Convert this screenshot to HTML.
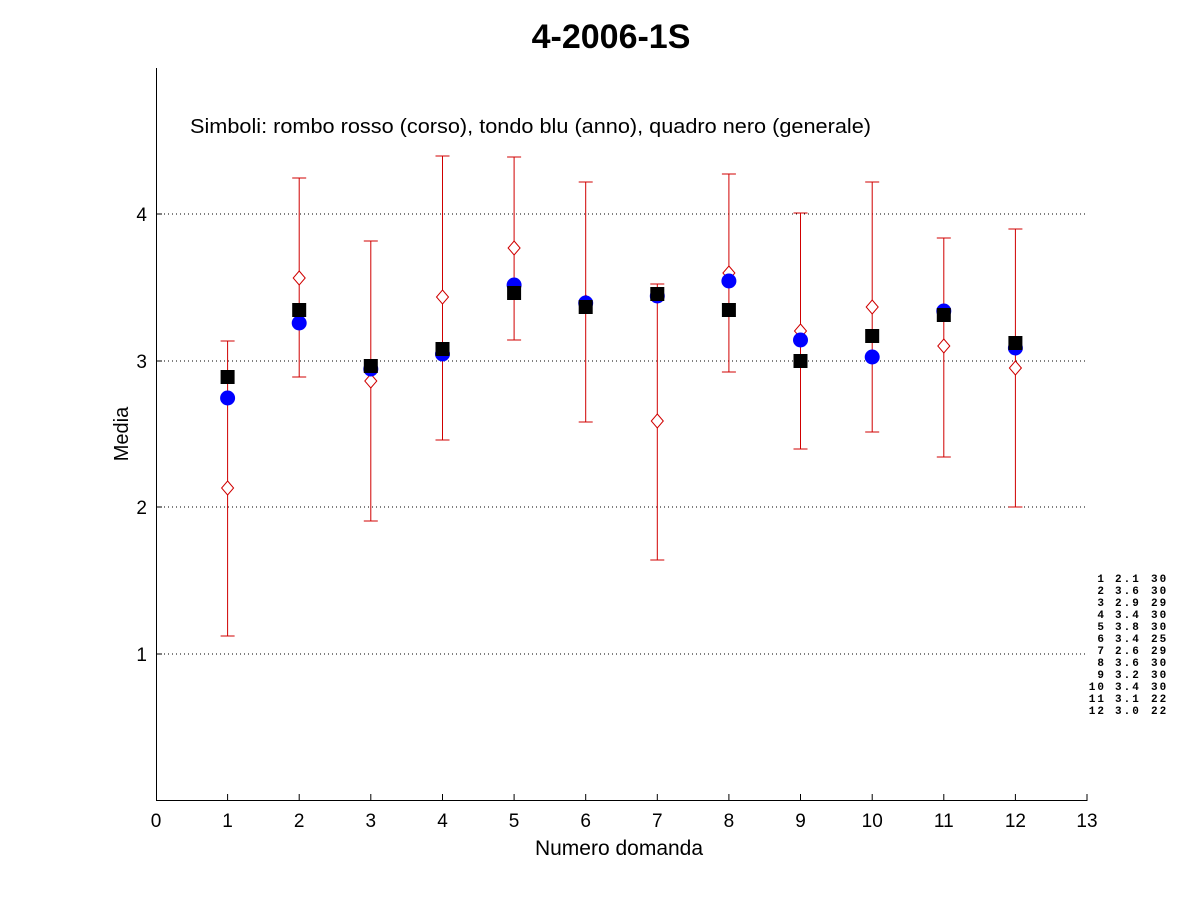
<!DOCTYPE html>
<html><head><meta charset="utf-8"><style>
body{margin:0;background:#fff}
svg{display:block}
text{font-family:"Liberation Sans",Arial,sans-serif}
.m text{font-family:"Liberation Mono",monospace;font-size:11px;font-weight:bold;letter-spacing:2px}
</style></head><body>
<svg width="1201" height="900" xmlns="http://www.w3.org/2000/svg">
<rect width="1201" height="900" fill="#fff"/>
<text x="611" y="48" font-size="34" font-weight="bold" text-anchor="middle">4-2006-1S</text>
<g stroke="#000" stroke-width="1" stroke-dasharray="1,3">
<line x1="156" y1="214" x2="1087" y2="214"/>
<line x1="156" y1="361" x2="1087" y2="361"/>
<line x1="156" y1="507" x2="1087" y2="507"/>
<line x1="156" y1="654" x2="1087" y2="654"/>
</g>
<g stroke="#000" stroke-width="1" fill="none">
<line x1="156.5" y1="68" x2="156.5" y2="800.5"/>
<line x1="156" y1="800.5" x2="1087.5" y2="800.5"/>
<path d="M156 214h6M156 361h6M156 507h6M156 654h6"/>
<path d="M227.6 800v-6M299.2 800v-6M370.8 800v-6M442.5 800v-6M514.1 800v-6M585.7 800v-6M657.3 800v-6M728.9 800v-6M800.5 800v-6M872.2 800v-6M943.8 800v-6M1015.4 800v-6M1087 800v-6"/>
</g>
<g font-size="19" text-anchor="end">
<text x="147" y="221">4</text><text x="147" y="368">3</text><text x="147" y="514">2</text><text x="147" y="661">1</text>
</g>
<g font-size="19" text-anchor="middle">
<text x="156" y="827">0</text><text x="227.6" y="827">1</text><text x="299.2" y="827">2</text><text x="370.8" y="827">3</text><text x="442.5" y="827">4</text><text x="514.1" y="827">5</text><text x="585.7" y="827">6</text><text x="657.3" y="827">7</text><text x="728.9" y="827">8</text><text x="800.5" y="827">9</text><text x="872.2" y="827">10</text><text x="943.8" y="827">11</text><text x="1015.4" y="827">12</text><text x="1087" y="827">13</text>
</g>
<text x="619" y="855" font-size="21" text-anchor="middle">Numero domanda</text>
<text x="128" y="434" font-size="20" text-anchor="middle" transform="rotate(-90 128 434)">Media</text>
<text x="190" y="133" font-size="20" textLength="681" lengthAdjust="spacingAndGlyphs">Simboli: rombo rosso (corso), tondo blu (anno), quadro nero (generale)</text>
<g stroke="#d00000" stroke-width="1" fill="none">
<path d="M227.6 341V636M220.6 341h14M220.6 636h14"/>
<path d="M299.2 178V377M292.2 178h14M292.2 377h14"/>
<path d="M370.8 241V521M363.8 241h14M363.8 521h14"/>
<path d="M442.5 156V440M435.5 156h14M435.5 440h14"/>
<path d="M514.1 157V340M507.1 157h14M507.1 340h14"/>
<path d="M585.7 182V422M578.7 182h14M578.7 422h14"/>
<path d="M657.3 284V560M650.3 284h14M650.3 560h14"/>
<path d="M728.9 174V372M721.9 174h14M721.9 372h14"/>
<path d="M800.5 213V449M793.5 213h14M793.5 449h14"/>
<path d="M872.2 182V432M865.2 182h14M865.2 432h14"/>
<path d="M943.8 238V457M936.8 238h14M936.8 457h14"/>
<path d="M1015.4 229V507M1008.4 229h14M1008.4 507h14"/>
<g fill="#fff">
<path d="M227.6 481l6 7-6 7-6-7z"/>
<path d="M299.2 271l6 7-6 7-6-7z"/>
<path d="M370.8 374l6 7-6 7-6-7z"/>
<path d="M442.5 290l6 7-6 7-6-7z"/>
<path d="M514.1 241l6 7-6 7-6-7z"/>
<path d="M585.7 295l6 7-6 7-6-7z"/>
<path d="M657.3 414l6 7-6 7-6-7z"/>
<path d="M728.9 266l6 7-6 7-6-7z"/>
<path d="M800.5 324l6 7-6 7-6-7z"/>
<path d="M872.2 300l6 7-6 7-6-7z"/>
<path d="M943.8 339l6 7-6 7-6-7z"/>
<path d="M1015.4 361l6 7-6 7-6-7z"/>
</g>
</g>
<g fill="#0000ff">
<circle cx="227.6" cy="398" r="7.5"/><circle cx="299.2" cy="323" r="7.5"/><circle cx="370.8" cy="369" r="7.5"/><circle cx="442.5" cy="354" r="7.5"/><circle cx="514.1" cy="285" r="7.5"/><circle cx="585.7" cy="303" r="7.5"/><circle cx="657.3" cy="296" r="7.5"/><circle cx="728.9" cy="281" r="7.5"/><circle cx="800.5" cy="340" r="7.5"/><circle cx="872.2" cy="357" r="7.5"/><circle cx="943.8" cy="311" r="7.5"/><circle cx="1015.4" cy="348" r="7.5"/>
</g>
<g fill="#000">
<rect x="220.6" y="370" width="14" height="14"/><rect x="292.2" y="303" width="14" height="14"/><rect x="363.8" y="359" width="14" height="14"/><rect x="435.5" y="342" width="14" height="14"/><rect x="507.1" y="286" width="14" height="14"/><rect x="578.7" y="300" width="14" height="14"/><rect x="650.3" y="287" width="14" height="14"/><rect x="721.9" y="303" width="14" height="14"/><rect x="793.5" y="354" width="14" height="14"/><rect x="865.2" y="329" width="14" height="14"/><rect x="936.8" y="308" width="14" height="14"/><rect x="1008.4" y="336" width="14" height="14"/>
</g>
<g class="m">
<g text-anchor="end">
<text x="1106" y="582">1</text><text x="1106" y="594">2</text><text x="1106" y="606">3</text><text x="1106" y="618">4</text><text x="1106" y="630">5</text><text x="1106" y="642">6</text><text x="1106" y="654">7</text><text x="1106" y="666">8</text><text x="1106" y="678">9</text><text x="1106" y="690">10</text><text x="1106" y="702">11</text><text x="1106" y="714">12</text>
</g>
<g>
<text x="1115" y="582">2.1</text><text x="1115" y="594">3.6</text><text x="1115" y="606">2.9</text><text x="1115" y="618">3.4</text><text x="1115" y="630">3.8</text><text x="1115" y="642">3.4</text><text x="1115" y="654">2.6</text><text x="1115" y="666">3.6</text><text x="1115" y="678">3.2</text><text x="1115" y="690">3.4</text><text x="1115" y="702">3.1</text><text x="1115" y="714">3.0</text>
</g>
<g>
<text x="1151" y="582">30</text><text x="1151" y="594">30</text><text x="1151" y="606">29</text><text x="1151" y="618">30</text><text x="1151" y="630">30</text><text x="1151" y="642">25</text><text x="1151" y="654">29</text><text x="1151" y="666">30</text><text x="1151" y="678">30</text><text x="1151" y="690">30</text><text x="1151" y="702">22</text><text x="1151" y="714">22</text>
</g>
</g>
</svg>
</body></html>
